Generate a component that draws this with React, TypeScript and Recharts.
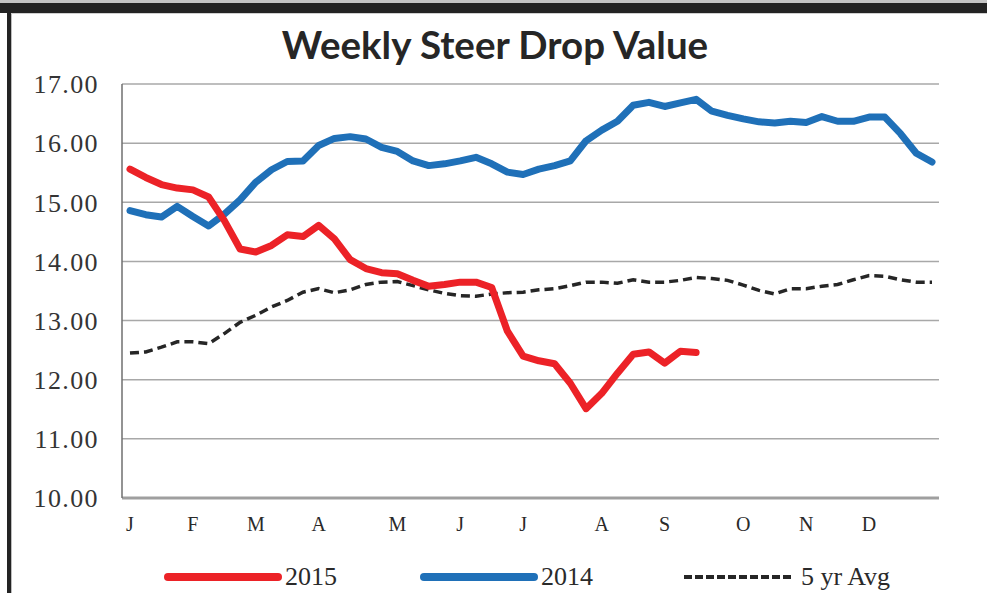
import { CartesianGrid, Line, LineChart, XAxis, YAxis } from 'recharts';

// weekly values, week 0 = first week of January
const Y2015 = [
  15.56, 15.42, 15.3, 15.24, 15.21, 15.09, 14.69, 14.21, 14.16, 14.27, 14.45, 14.42, 14.61,
  14.38, 14.03, 13.88, 13.81, 13.79, 13.68, 13.58, 13.61, 13.65, 13.65, 13.56, 12.82, 12.4,
  12.32, 12.27, 11.94, 11.51, 11.77, 12.11, 12.43, 12.47, 12.28, 12.48, 12.46,
];

const Y2014 = [
  14.86, 14.79, 14.75, 14.93, 14.76, 14.6, 14.8, 15.04, 15.34, 15.55, 15.69, 15.7, 15.96,
  16.08, 16.11, 16.07, 15.93, 15.86, 15.7, 15.62, 15.65, 15.7, 15.76, 15.65, 15.51, 15.47,
  15.56, 15.62, 15.7, 16.04, 16.22, 16.37, 16.64, 16.69, 16.62, 16.68, 16.74, 16.54, 16.47,
  16.41, 16.36, 16.34, 16.37, 16.35, 16.45, 16.37, 16.37, 16.44, 16.44, 16.16, 15.83, 15.68,
];

const AVG5 = [
  12.45, 12.47, 12.55, 12.64, 12.64, 12.61, 12.78, 12.97, 13.09, 13.23, 13.34, 13.48, 13.54,
  13.47, 13.52, 13.61, 13.65, 13.66, 13.59, 13.52, 13.46, 13.42, 13.41, 13.45, 13.47, 13.48,
  13.52, 13.54, 13.59, 13.65, 13.65, 13.63, 13.69, 13.65, 13.65, 13.68, 13.73, 13.71, 13.68,
  13.6, 13.51, 13.45, 13.54, 13.54, 13.58, 13.61, 13.69, 13.76, 13.75, 13.69, 13.65, 13.65,
];

const MONTH_WEEKS = [0, 4, 8, 12, 17, 21, 25, 30, 34, 39, 43, 47];
const MONTH_LABELS = ['J', 'F', 'M', 'A', 'M', 'J', 'J', 'A', 'S', 'O', 'N', 'D'];
const Y_TICKS = [10, 11, 12, 13, 14, 15, 16, 17];

const DATA = Y2014.map((v, i) => ({
  week: i,
  y2015: i < Y2015.length ? Y2015[i] : null,
  y2014: v,
  avg: AVG5[i],
}));

const RED = '#ec2227';
const BLUE = '#1f70b8';
const DASH = '#262626';
const SERIF = '"Liberation Serif", "Times New Roman", serif';

function LegendItem({ x, color, width, dash, label }: { x: number; color: string; width: number; dash?: string; label: string }) {
  return (
    <div style={{ position: 'absolute', left: x, top: 560, height: 34, display: 'flex', alignItems: 'center' }}>
      <svg width={120} height={20}>
        <line
          x1={4}
          y1={10}
          x2={114}
          y2={10}
          stroke={color}
          strokeWidth={width}
          strokeDasharray={dash}
          strokeLinecap={dash ? 'butt' : 'round'}
        />
      </svg>
      <span style={{ fontFamily: SERIF, fontSize: 26, color: '#2a2a2a', marginLeft: 1, lineHeight: '34px' }}>{label}</span>
    </div>
  );
}

export default function App() {
  return (
    <div style={{ position: 'absolute', left: 0, top: 0, width: 987, height: 593, background: '#fff', overflow: 'hidden' }}>
      {/* frame */}
      <div style={{ position: 'absolute', left: 0, top: 0, width: 987, height: 3, background: '#c4c4c4' }} />
      <div style={{ position: 'absolute', left: 0, top: 3, width: 987, height: 10, background: '#232323' }} />
      <div style={{ position: 'absolute', left: 11, top: 13, width: 976, height: 1, background: '#cfcfcf' }} />
      <div style={{ position: 'absolute', left: 7, top: 13, width: 4, height: 580, background: '#232323' }} />
      <div style={{ position: 'absolute', left: 11, top: 14, width: 1, height: 579, background: '#bdbdbd' }} />

      <div
        style={{
          position: 'absolute',
          left: 0,
          width: 990,
          top: 20,
          textAlign: 'center',
          fontFamily: 'Lato, "Open Sans", sans-serif',
          fontWeight: 700,
          fontSize: 38.5,
          color: '#262626',
          lineHeight: '48px',
        }}
      >
        Weekly Steer Drop Value
      </div>

      <div style={{ position: 'absolute', left: 0, top: 0 }}>
        <LineChart width={987} height={593} data={DATA} margin={{ top: 84, right: 48, bottom: 55, left: 0 }}>
          <CartesianGrid horizontal vertical={false} stroke="#a8a8a8" strokeWidth={1.5} />
          <XAxis
            dataKey="week"
            type="number"
            domain={[0, 51]}
            ticks={MONTH_WEEKS}
            tickFormatter={(w: number) => MONTH_LABELS[MONTH_WEEKS.indexOf(w)] ?? ''}
            padding={{ left: 8, right: 7 }}
            height={40}
            tickLine={false}
            tickMargin={13}
            axisLine={{ stroke: '#9f9f9f', strokeWidth: 3 }}
            tick={{ fill: '#2a2a2a', fontSize: 20, fontFamily: SERIF }}
            interval={0}
          />
          <YAxis
            domain={[10, 17]}
            ticks={Y_TICKS}
            width={122}
            tickLine={false}
            tickMargin={17}
            tickFormatter={(v: number) => v.toFixed(2)}
            axisLine={{ stroke: '#6f6f6f', strokeWidth: 1.5 }}
            tick={{ fill: '#343434', fontSize: 26, fontFamily: SERIF, letterSpacing: 1.4 }}
            interval={0}
          />
          <Line
            type="linear"
            dataKey="avg"
            stroke={DASH}
            strokeWidth={3.5}
            strokeDasharray="9 5"
            dot={false}
            isAnimationActive={false}
          />
          <Line
            type="linear"
            dataKey="y2014"
            stroke={BLUE}
            strokeWidth={7}
            strokeLinecap="round"
            strokeLinejoin="round"
            dot={false}
            isAnimationActive={false}
          />
          <Line
            type="linear"
            dataKey="y2015"
            stroke={RED}
            strokeWidth={7}
            strokeLinecap="round"
            strokeLinejoin="round"
            dot={false}
            connectNulls={false}
            isAnimationActive={false}
          />
        </LineChart>
      </div>

      <LegendItem x={164} color={RED} width={8} label="2015" />
      <LegendItem x={420} color={BLUE} width={8} label="2014" />
      <LegendItem x={680} color={DASH} width={4} dash="8 3" label="5 yr Avg" />
    </div>
  );
}
